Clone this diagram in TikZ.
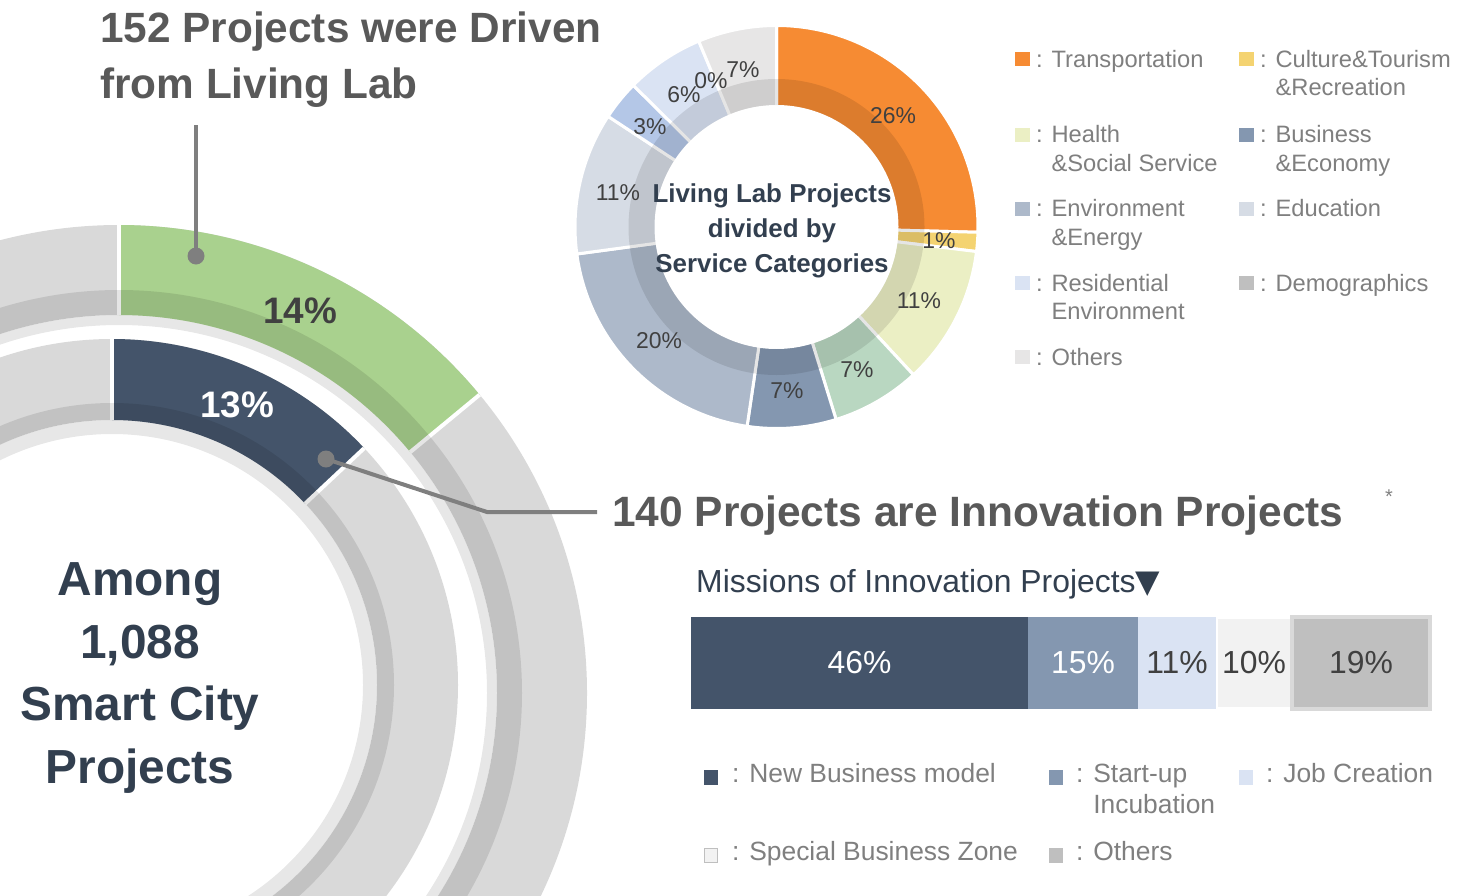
\documentclass[tikz,border=0pt]{standalone}
\usepackage{fontspec}
\setmainfont{Liberation Sans}
\newfontfamily\symbolfont{DejaVu Sans}
\usetikzlibrary{calc,positioning}

\definecolor{ringgray}{HTML}{D9D9D9}
\definecolor{ringlight}{HTML}{E7E7E7}
\definecolor{livinggreen}{HTML}{A9D18E}
\definecolor{innonavy}{HTML}{44546A}
\definecolor{calloutgray}{HTML}{7F7F7F}
\definecolor{headgray}{HTML}{595959}
\definecolor{darknavy}{HTML}{323F4F}
\definecolor{pctdark}{HTML}{404040}
\definecolor{transorange}{HTML}{F68B33}
\definecolor{cultureyellow}{HTML}{F4D371}
\definecolor{healthyellow}{HTML}{EBEFC4}
\definecolor{mintgreen}{HTML}{B9D7C1}
\definecolor{bizblue}{HTML}{8497B0}
\definecolor{envblue}{HTML}{ADB9CA}
\definecolor{edublue}{HTML}{D6DCE5}
\definecolor{skyblue}{HTML}{B4C7E7}
\definecolor{residblue}{HTML}{DAE3F3}
\definecolor{demogray}{HTML}{BFBFBF}
\definecolor{othergray}{HTML}{E7E6E6}
\definecolor{zonegray}{HTML}{F2F2F2}

% ring piece: center, inner r, outer r, from, to
\newcommand{\ringpart}[5]{($(#1)+(#4:#3)$) arc[start angle=#4, end angle=#5, radius=#3] -- ($(#1)+(#5:#2)$) arc[start angle=#5, end angle=#4, radius=#2] -- cycle}

\begin{document}
\begin{tikzpicture}[x=1bp, y=1bp,
  calldot/.style={circle, fill=calloutgray, minimum size=17bp, inner sep=0},
  callout/.style={draw=calloutgray, line width=4bp},
  segsep/.style={white, line width=4bp},
  bandshade/.style={black, opacity=0.1},
  slice/.style={draw=white, line width=3bp},
  pct/.style={font=\fontsize{23}{23}\selectfont, text=pctdark, inner sep=0},
  bigpct/.style={font=\bfseries\fontsize{37}{37}\selectfont, inner sep=0},
  legtext/.style={font=\fontsize{23.8}{28.5}\selectfont, text=calloutgray, inner sep=0, align=left, anchor=base west},
  mislegtext/.style={font=\fontsize{26.5}{31}\selectfont, text=calloutgray, inner sep=0, align=left, anchor=base west},
  legbox/.style={minimum width=15bp, minimum height=14bp, inner sep=0},
  barseg/.style={minimum height=92bp, inner sep=0, outer sep=0, font=\fontsize{32}{32}\selectfont, anchor=west, text=pctdark}]

  \useasboundingbox (0,0) rectangle (1459,-895);
  \clip (0,0) rectangle (1459,-895);

  \coordinate (ringO) at (119,-693);
  \coordinate (ringI) at (112,-685);
  \coordinate (donutC) at (776.5,-227);

  % outer ring: living lab
  \fill[ringlight, even odd rule] (ringO) circle[radius=378] (ringO) circle[radius=368];
  \fill[ringgray, even odd rule] (ringO) circle[radius=468] (ringO) circle[radius=378];
  \fill[livinggreen] \ringpart{ringO}{378}{468}{90}{39.6};
  \draw[segsep] ($(ringO)+(90:378)$) -- ($(ringO)+(90:468)$);
  \draw[segsep] ($(ringO)+(39.6:378)$) -- ($(ringO)+(39.6:468)$);
  \fill[bandshade, even odd rule] (ringO) circle[radius=403] (ringO) circle[radius=378];

  % inner ring: innovation
  \fill[ringlight, even odd rule] (ringI) circle[radius=265] (ringI) circle[radius=251];
  \fill[ringgray, even odd rule] (ringI) circle[radius=346] (ringI) circle[radius=265];
  \fill[innonavy] \ringpart{ringI}{265}{346}{90}{43.2};
  \draw[segsep] ($(ringI)+(90:265)$) -- ($(ringI)+(90:346)$);
  \draw[segsep] ($(ringI)+(43.2:265)$) -- ($(ringI)+(43.2:346)$);
  \fill[bandshade, even odd rule] (ringI) circle[radius=282] (ringI) circle[radius=265];

  \node[bigpct, text=pctdark] (llPct) at (300,-311) {14\%};
  \node[bigpct, text=white] (innoPct) at (237,-405) {13\%};

  \node[font=\bfseries\fontsize{48}{63}\selectfont, text=darknavy, align=center, inner sep=0] (amongTxt) at (140,-678) {Among\\1,088\\Smart City\\Projects};

  % callouts
  \node[font=\bfseries\fontsize{42.5}{56}\selectfont, text=headgray, align=left, inner sep=0, anchor=north west] (llHead) at (100,-12) {152 Projects were Driven\\from Living Lab};
  \coordinate (llTop) at (196,-125);
  \node[calldot] (llDot) at (196,-256) {};
  \draw[callout] (llTop) -- (llDot.center);

  \node[calldot] (innoDot) at (326,-459) {};
  \coordinate (innoBend) at (487,-512);
  \coordinate (innoEnd) at (597,-512);
  \draw[callout] (innoDot.center) -- (innoBend) -- (innoEnd);
  \node[font=\bfseries\fontsize{42.6}{42.6}\selectfont, text=headgray, anchor=base west, inner sep=0] (innoHead) at (612,-526) {140 Projects are Innovation Projects};
  \node[font=\fontsize{20}{20}\selectfont, text=calloutgray, inner sep=0] (note) at (1389,-497) {*};

  % donut of service categories
  \filldraw[slice, fill=transorange] \ringpart{donutC}{120.5}{201.5}{90}{-1.5};
  \filldraw[slice, fill=cultureyellow] \ringpart{donutC}{120.5}{201.5}{-1.5}{-7};
  \filldraw[slice, fill=healthyellow] \ringpart{donutC}{120.5}{201.5}{-7}{-47.2};
  \filldraw[slice, fill=mintgreen] \ringpart{donutC}{120.5}{201.5}{-47.2}{-72.8};
  \filldraw[slice, fill=bizblue] \ringpart{donutC}{120.5}{201.5}{-72.8}{-98.4};
  \filldraw[slice, fill=envblue] \ringpart{donutC}{120.5}{201.5}{-98.4}{-172.3};
  \filldraw[slice, fill=edublue] \ringpart{donutC}{120.5}{201.5}{-172.3}{-213.3};
  \filldraw[slice, fill=skyblue] \ringpart{donutC}{120.5}{201.5}{-213.3}{-224.7};
  \filldraw[slice, fill=residblue] \ringpart{donutC}{120.5}{201.5}{-224.7}{-247.3};
  \filldraw[slice, fill=othergray] \ringpart{donutC}{120.5}{201.5}{-247.3}{-270};
  \fill[bandshade, even odd rule] (donutC) circle[radius=148] (donutC) circle[radius=122];

  \node[pct] (pTrans) at (893,-116) {26\%};
  \node[pct] (pCult) at (939,-241) {1\%};
  \node[pct] (pHealth) at (919,-301) {11\%};
  \node[pct] (pMint) at (857,-370) {7\%};
  \node[pct] (pBiz) at (787,-391) {7\%};
  \node[pct] (pEnv) at (659,-341) {20\%};
  \node[pct] (pEdu) at (618,-193) {11\%};
  \node[pct] (pSky) at (650,-127) {3\%};
  \node[pct] (pResid) at (684,-95) {6\%};
  \node[pct] (pDemo) at (711,-81) {0\%};
  \node[pct] (pOther) at (743,-70) {7\%};

  \node[font=\bfseries\fontsize{26}{35}\selectfont, text=darknavy, align=center, inner sep=0] (llTitle) at (772,-231) {Living Lab Projects\\divided by\\Service Categories};

  % legend of categories (two-line texts sit on the baseline of their last line)
  \node[legbox, fill=transorange] (lgTrans) at (1022.5,-59) {};
  \node[legtext] (lgTransTxt) at (1036,-67) {: Transportation};
  \node[legbox, fill=cultureyellow] (lgCult) at (1246.5,-59) {};
  \node[legtext] (lgCultTxt) at (1260,-95.5) {: Culture\&Tourism\\\phantom{: }\&Recreation};
  \node[legbox, fill=healthyellow] (lgHealth) at (1022.5,-134.5) {};
  \node[legtext] (lgHealthTxt) at (1036,-171) {: Health\\\phantom{: }\&Social Service};
  \node[legbox, fill=bizblue] (lgBiz) at (1246.5,-134.5) {};
  \node[legtext] (lgBizTxt) at (1260,-171) {: Business\\\phantom{: }\&Economy};
  \node[legbox, fill=envblue] (lgEnv) at (1022.5,-208.5) {};
  \node[legtext] (lgEnvTxt) at (1036,-245) {: Environment\\\phantom{: }\&Energy};
  \node[legbox, fill=edublue] (lgEdu) at (1246.5,-208.5) {};
  \node[legtext] (lgEduTxt) at (1260,-216.5) {: Education};
  \node[legbox, fill=residblue] (lgResid) at (1022.5,-283) {};
  \node[legtext] (lgResidTxt) at (1036,-319.5) {: Residential\\\phantom{: }Environment};
  \node[legbox, fill=demogray] (lgDemo) at (1246.5,-283) {};
  \node[legtext] (lgDemoTxt) at (1260,-291) {: Demographics};
  \node[legbox, fill=othergray] (lgOther) at (1022.5,-357) {};
  \node[legtext] (lgOtherTxt) at (1036,-365) {: Others};

  % missions bar
  \node[font=\fontsize{32}{32}\selectfont, text=darknavy, anchor=base west, inner sep=0] (missionHead) at (696,-592) {Missions of Innovation Projects{\symbolfont ▼}};
  \node[barseg, fill=innonavy, text=white, minimum width=337bp] (nbModel) at (691,-663) {46\%};
  \node[barseg, fill=bizblue, text=white, minimum width=110bp] (startUp) at (nbModel.east) {15\%};
  \node[barseg, fill=residblue, minimum width=78bp] (jobCre) at (startUp.east) {11\%};
  \node[barseg, fill=zonegray, minimum width=72bp, minimum height=88bp] (sbZone) at ($(jobCre.east)+(2,0)$) {10\%};
  \node[barseg, fill=demogray, draw=ringgray, line width=4bp, outer sep=2bp, minimum width=138bp] (otherMis) at (sbZone.east) {19\%};

  \node[legbox, fill=innonavy, minimum width=14bp, minimum height=15bp] (mlNbm) at (711,-777) {};
  \node[mislegtext] (mlNbmTxt) at (732,-782) {: New Business model};
  \node[legbox, fill=bizblue, minimum width=14bp, minimum height=15bp] (mlSu) at (1056,-777) {};
  \node[mislegtext] (mlSuTxt) at (1076,-813) {: Start-up\\\phantom{: }Incubation};
  \node[legbox, fill=residblue, minimum width=14bp, minimum height=15bp] (mlJob) at (1246,-777) {};
  \node[mislegtext] (mlJobTxt) at (1266,-782) {: Job Creation};
  \node[legbox, fill=zonegray, draw=demogray, line width=1bp, minimum width=13bp, minimum height=14bp] (mlZone) at (711,-855) {};
  \node[mislegtext] (mlZoneTxt) at (732,-860) {: Special Business Zone};
  \node[legbox, fill=demogray, minimum width=14bp, minimum height=15bp] (mlOther) at (1056,-855) {};
  \node[mislegtext] (mlOtherTxt) at (1076,-860) {: Others};

\end{tikzpicture}
\end{document}
